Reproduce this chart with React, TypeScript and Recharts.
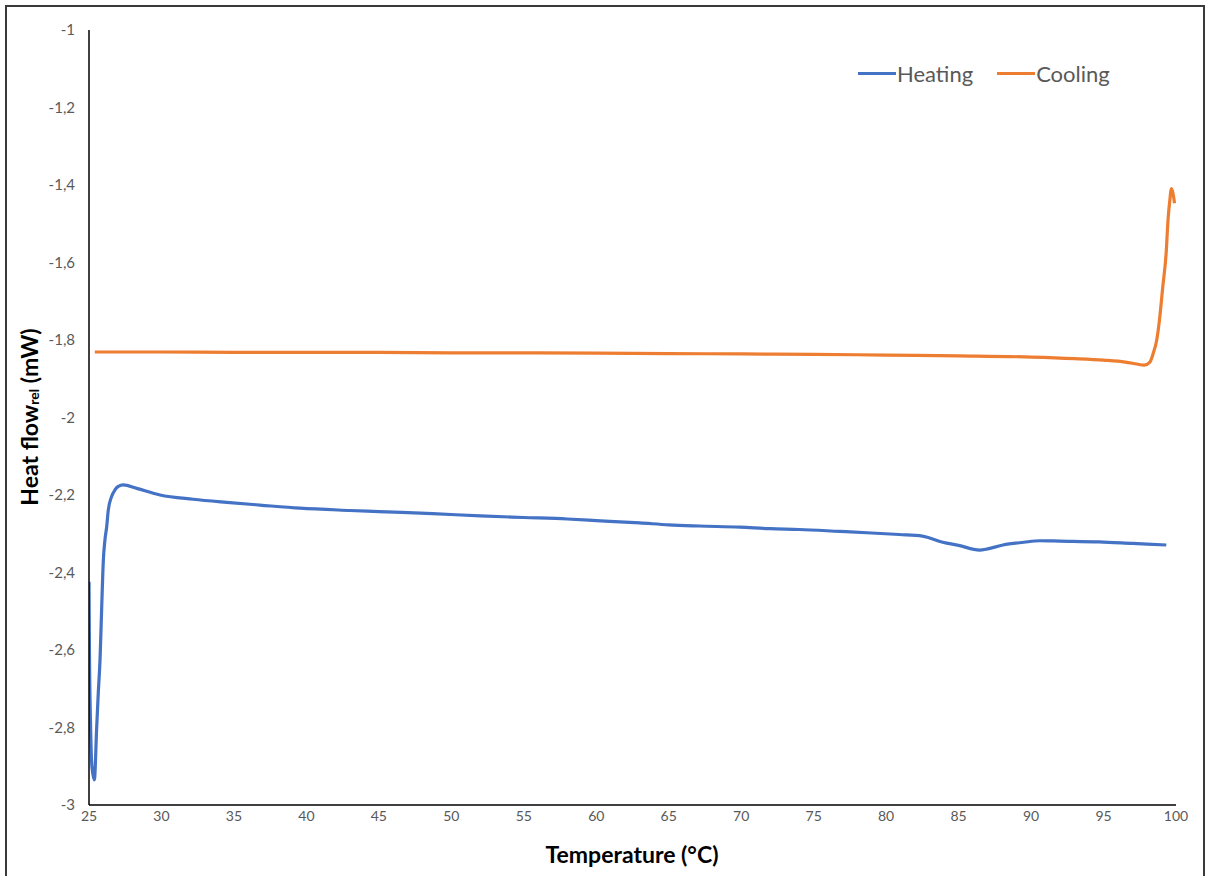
import React from 'react';
import { LineChart, Line, XAxis, YAxis } from 'recharts';

// DSC trace
const heatingTemp = [
  25.0, 25.03, 25.1, 25.2, 25.37, 25.53, 25.64, 25.76, 25.87, 25.99, 26.1, 26.22, 26.33, 26.56, 26.79,
  27.02, 27.37, 28.29, 29.9, 32.19, 34.5, 36.8, 39.55, 43, 45, 48.7, 52, 55, 58, 60, 63, 65, 67.1,
  69.9, 72, 74, 76.8, 79, 80.9, 82.5, 83.9, 85, 86.45, 87, 88.06, 89.5, 90.59, 92, 94.7, 97, 99.33,
];
const heatingFlow = [
  -2.424, -2.6, -2.78, -2.9, -2.935, -2.8, -2.711, -2.626, -2.497, -2.368, -2.316, -2.282, -2.239, -2.204, -2.187,
  -2.178, -2.174, -2.183, -2.2, -2.211, -2.219, -2.226, -2.234, -2.24, -2.243, -2.248, -2.254, -2.258, -2.262, -2.266, -2.272, -2.277, -2.28,
  -2.283, -2.287, -2.289, -2.294, -2.298, -2.302, -2.306, -2.322, -2.33, -2.342, -2.339, -2.329, -2.322, -2.318, -2.319, -2.321, -2.325, -2.329,
];

const coolingTemp = [
  25.4, 30, 35, 40, 45, 50, 55, 60, 65, 70, 75, 80, 85, 90, 93, 95, 96.5, 97.3, 97.8, 98.2, 98.43, 98.67,
  98.86, 99.09, 99.32, 99.45, 99.6, 99.67, 99.75, 99.9,
];
const coolingFlow = [
  -1.831, -1.831, -1.832, -1.832, -1.832, -1.833, -1.833, -1.834, -1.835, -1.836, -1.837, -1.839, -1.841, -1.844, -1.848, -1.852, -1.857, -1.862, -1.865, -1.857, -1.834, -1.8,
  -1.748, -1.662, -1.576, -1.49, -1.43, -1.409, -1.415, -1.447,
];

const xTicks = [25, 30, 35, 40, 45, 50, 55, 60, 65, 70, 75, 80, 85, 90, 95, 100];
const yTicks = [-3, -2.8, -2.6, -2.4, -2.2, -2, -1.8, -1.6, -1.4, -1.2, -1];

const heating = heatingTemp.map((t, i) => ({ t, v: heatingFlow[i] }));
const cooling = coolingTemp.map((t, i) => ({ t, v: coolingFlow[i] }));

const BLUE = '#4472C4';
const ORANGE = '#ED7D31';
const FONT = 'Lato, "Open Sans", sans-serif';

const series = [
  { name: 'Heating', color: BLUE },
  { name: 'Cooling', color: ORANGE },
];

const commaFmt = (v: number) => String(v).replace('.', ',');

const renderYTitle = () => (
  <text
    x={32}
    y={417}
    transform="rotate(-90, 32, 417)"
    textAnchor="middle"
    dominantBaseline="middle"
    fontFamily={FONT}
    fontWeight={700}
    fontSize={23}
    fill="#000"
  >
    Heat flow
    <tspan fontSize={14} dy={3}>rel</tspan>
    <tspan dy={-3}> (mW)</tspan>
  </text>
);

const renderXTitle = () => (
  <text x={632} y={857} textAnchor="middle" dominantBaseline="middle" fontFamily={FONT} fontWeight={700} fontSize={23} fill="#000">
    Temperature (°C)
  </text>
);

export default function App() {
  return (
    <div style={{ position: 'absolute', top: 0, left: 0, width: 1208, height: 876, background: '#fff', overflow: 'hidden' }}>
      <div
        style={{
          position: 'absolute',
          left: 5,
          top: 5,
          width: 1196,
          height: 890,
          border: '2px solid #3a3a3a',
        }}
      />
      <LineChart width={1208} height={876} margin={{ top: 30, right: 32, left: 0, bottom: 0 }}>
        <XAxis
          type="number"
          dataKey="t"
          domain={[25, 100]}
          ticks={xTicks}
          allowDataOverflow
          height={71}
          axisLine={{ stroke: '#000', strokeWidth: 1.5 }}
          tickLine={false}
          tickSize={0}
          tickMargin={6}
          tick={{ fill: '#595959', fontSize: 14, fontFamily: FONT }}
          label={{ content: renderXTitle }}
        />
        <YAxis
          type="number"
          dataKey="v"
          domain={[-3, -1]}
          ticks={yTicks}
          allowDataOverflow
          width={89}
          axisLine={{ stroke: '#000', strokeWidth: 1.5 }}
          tickLine={false}
          tickSize={0}
          tickMargin={14}
          tickFormatter={commaFmt}
          tick={{ fill: '#595959', fontSize: 15, fontFamily: FONT }}
          label={{ content: renderYTitle }}
        />
        <Line data={heating} dataKey="v" name="Heating" type="monotone" stroke={BLUE} strokeWidth={3.2} dot={false} isAnimationActive={false} />
        <Line data={cooling} dataKey="v" name="Cooling" type="monotone" stroke={ORANGE} strokeWidth={3.2} dot={false} isAnimationActive={false} />
      </LineChart>
      <div
        style={{
          position: 'absolute',
          top: 60,
          left: 858,
          display: 'flex',
          alignItems: 'center',
          fontFamily: FONT,
          fontSize: 22,
          color: '#595959',
        }}
      >
        {series.map((it) => (
          <div key={it.name} style={{ display: 'flex', alignItems: 'center', marginRight: 24 }}>
            <span style={{ display: 'inline-block', width: 38, height: 3, background: it.color, marginRight: 1 }} />
            <span>{it.name}</span>
          </div>
        ))}
      </div>
    </div>
  );
}
